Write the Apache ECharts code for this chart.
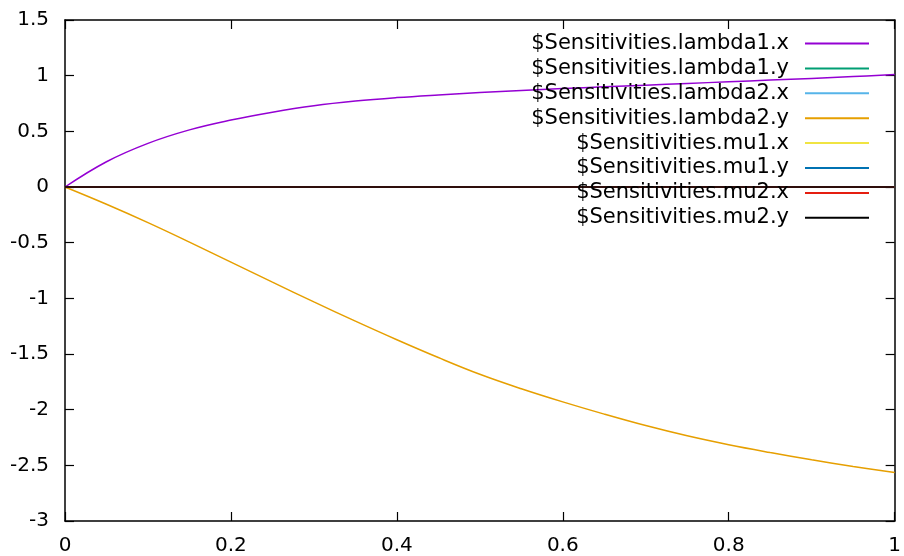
<!DOCTYPE html>
<html>
<head>
<meta charset="utf-8">
<script src="https://cdn.jsdelivr.net/npm/echarts@6/dist/echarts.min.js"></script>
<style>
  html, body { margin: 0; padding: 0; background: #fff; }
  #chart { width: 904px; height: 556px; }
</style>
</head>
<body>
<div id="chart"></div>
<script>
const xs = [0, 0.05, 0.1, 0.15, 0.2, 0.25, 0.3, 0.35, 0.4, 0.45, 0.5,
            0.55, 0.6, 0.65, 0.7, 0.75, 0.8, 0.85, 0.9, 0.95, 1];

const lambda1X = [0, 0.227, 0.392, 0.513, 0.601, 0.672, 0.73, 0.772, 0.803, 0.827, 0.848,
                  0.867, 0.884, 0.9, 0.915, 0.93, 0.945, 0.96, 0.975, 0.992, 1.01];
const lambda2Y = [0, -0.155, -0.32, -0.495, -0.675, -0.855, -1.032, -1.205, -1.372, -1.532, -1.682,
                  -1.812, -1.93, -2.04, -2.143, -2.235, -2.315, -2.385, -2.45, -2.51, -2.565];
const zeros    = [0, 0, 0, 0, 0, 0, 0, 0, 0, 0, 0,
                  0, 0, 0, 0, 0, 0, 0, 0, 0, 0];

const names = [
  '$Sensitivities.lambda1.x', '$Sensitivities.lambda1.y',
  '$Sensitivities.lambda2.x', '$Sensitivities.lambda2.y',
  '$Sensitivities.mu1.x', '$Sensitivities.mu1.y',
  '$Sensitivities.mu2.x', '$Sensitivities.mu2.y',
];
const values = [lambda1X, zeros, zeros, lambda2Y, zeros, zeros, zeros, zeros];
const colors = ['#9400d3', '#009e73', '#56b4e9', '#e69f00', '#f0e442', '#0072b2', '#e51e10', '#000000'];

const FONT = 'DejaVu Sans';
const INK = '#000';

function axisBase(extra) {
  return Object.assign({
    type: 'value',
    axisLine: { show: true, onZero: false, lineStyle: { color: INK, width: 1.5 } },
    axisTick: { show: true, inside: true, length: 9, lineStyle: { color: INK, width: 1.2 } },
    splitLine: { show: false },
  }, extra);
}

const chart = echarts.init(document.getElementById('chart'), null, { renderer: 'canvas' });

chart.setOption({
  backgroundColor: '#fff',
  animation: false,
  grid: { left: 65, right: 8, top: 20, bottom: 35 },
  xAxis: [
    axisBase({ min: 0, max: 1, interval: 0.2, position: 'bottom',
      axisLabel: { color: INK, fontFamily: FONT, fontSize: 20, margin: 15 } }),
    axisBase({ min: 0, max: 1, interval: 0.2, position: 'top', axisLabel: { show: false } }),
  ],
  yAxis: [
    axisBase({ min: -3, max: 1.5, interval: 0.5, position: 'left',
      axisLabel: { color: INK, fontFamily: FONT, fontSize: 20, margin: 16 } }),
    axisBase({ min: -3, max: 1.5, interval: 0.5, position: 'right', axisLabel: { show: false } }),
  ],
  legend: {
    orient: 'vertical',
    right: 30,
    top: 28,
    align: 'right',
    icon: 'rect',
    itemWidth: 64,
    itemHeight: 2,
    itemGap: 3.9,
    data: names,
    formatter: (n) => '{t|' + n + '}',
    textStyle: {
      color: INK,
      fontFamily: FONT,
      fontSize: 21,
      rich: { t: { width: 262, align: 'right', fontFamily: FONT, fontSize: 21, lineHeight: 20, padding: [0, 11, 0, 0] } },
    },
  },
  series: names.map((name, i) => ({
    name,
    type: 'line',
    xAxisIndex: 0,
    yAxisIndex: 0,
    data: xs.map((x, j) => [x, values[i][j]]),
    showSymbol: false,
    symbol: 'none',
    smooth: 0.4,
    color: colors[i],
    lineStyle: { color: colors[i], width: 1.5 },
  })),
});
</script>
</body>
</html>
